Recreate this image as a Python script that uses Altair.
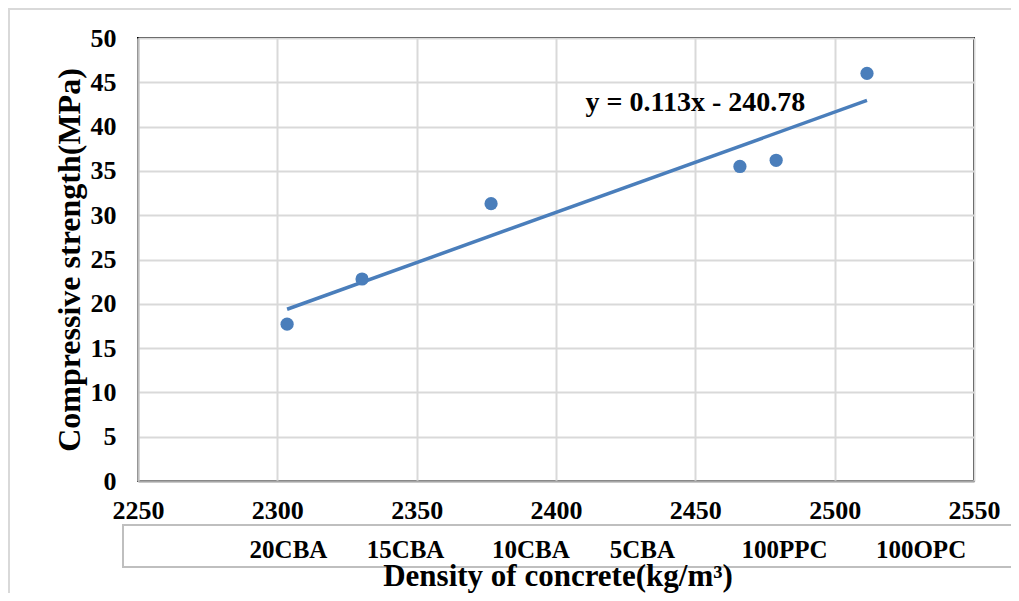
import altair as alt
import pandas as pd

# Data
density = [2303.5, 2330.4, 2376.7, 2466.0, 2479.0, 2511.6]
strength = [17.7, 22.8, 31.3, 35.5, 36.2, 46.0]

mix_labels = ["20CBA", "15CBA", "10CBA", "5CBA", "100PPC", "100OPC"]
mix_label_pos = [2304, 2346, 2391, 2431, 2482, 2531]

equation_text = ["y = 0.113x - 240.78"]
equation_x = [2450]
equation_y = [42.7]

x_ticks = [2250, 2300, 2350, 2400, 2450, 2500, 2550]
y_ticks = [0, 5, 10, 15, 20, 25, 30, 35, 40, 45, 50]

x_title = ["Density of concrete(kg/m³)"]

FONT = "Liberation Serif"
BLUE = "#4a7ebb"

pts = pd.DataFrame({"density": density, "strength": strength})
labs = pd.DataFrame({"mix": mix_labels, "pos": mix_label_pos})
eq = pd.DataFrame({"t": equation_text, "x": equation_x, "y": equation_y})
xt = pd.DataFrame({"t": x_title})

xscale = alt.Scale(domain=[2250, 2550], nice=False, zero=False)
yscale = alt.Scale(domain=[0, 50], nice=False)

xaxis = alt.Axis(
    values=x_ticks, title=None, format="d", labelFont=FONT,
    labelFontSize=26, labelFontWeight="bold", labelColor="black",
    labelPadding=16, ticks=False, domainColor="#a6a6a6",
    domainWidth=2, gridColor="#d9d9d9", gridWidth=2, labelFlush=False,
)
yaxis = alt.Axis(
    values=y_ticks, title="Compressive strength(MPa)", labelFont=FONT,
    labelFontSize=26, labelFontWeight="bold", labelColor="black",
    titleFont=FONT, titleFontSize=32, titleFontWeight="bold", titleColor="black",
    titlePadding=4, labelPadding=22, ticks=False, domainColor="#bfbfbf",
    domainWidth=2, gridColor="#d9d9d9", gridWidth=2, labelFlush=False,
)

base = alt.Chart(pts)

points = base.mark_circle(size=175, color=BLUE, opacity=1).encode(
    x=alt.X("density:Q", scale=xscale, axis=xaxis),
    y=alt.Y("strength:Q", scale=yscale, axis=yaxis),
)

trend = base.transform_regression("density", "strength").mark_line(
    color=BLUE, strokeWidth=3.5
).encode(
    x=alt.X("density:Q", scale=xscale),
    y=alt.Y("strength:Q", scale=yscale),
)

eq_text = alt.Chart(eq).mark_text(
    font=FONT, fontSize=28, fontWeight="bold", color="black"
).encode(
    x=alt.X("x:Q", scale=xscale), y=alt.Y("y:Q", scale=yscale), text="t:N"
)

box = alt.Chart(labs).mark_rect(
    fill=None, stroke="#bfbfbf", strokeWidth=2
).encode(
    x=alt.value(-15), x2=alt.value(900), y=alt.value(487), y2=alt.value(529)
)

frame = alt.Chart(labs).mark_rect(
    fill=None, stroke="#d9d9d9", strokeWidth=2
).encode(
    x=alt.value(-129), x2=alt.value(900), y=alt.value(-29), y2=alt.value(600)
)

mix_text = alt.Chart(labs).mark_text(
    font=FONT, fontSize=25, fontWeight="bold", color="black", baseline="alphabetic"
).encode(
    x=alt.X("pos:Q", scale=xscale), y=alt.value(520), text="mix:N"
)

xtitle = alt.Chart(xt).mark_text(
    font=FONT, fontSize=31, fontWeight="bold", color="black",
    baseline="alphabetic", align="center"
).encode(x=alt.value(420), y=alt.value(548), text="t:N")

chart = alt.layer(frame, box, trend, points, eq_text, mix_text, xtitle).properties(
    width=836, height=443,
    padding={"left": 130, "top": 30, "right": 37, "bottom": 112},
    autosize=alt.AutoSizeParams(type="none"),
).configure_view(stroke="black", strokeWidth=2)

chart.save("out.html", embed_options={"renderer": "svg", "actions": False})
